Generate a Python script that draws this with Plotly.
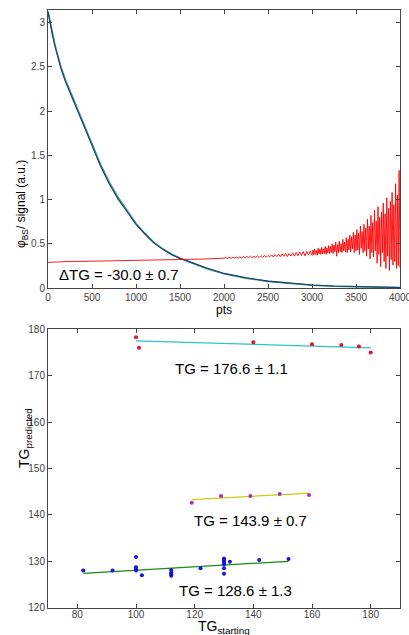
import numpy as np
import plotly.graph_objects as go

# ---------------- top panel data ----------------
sig_x = [0, 25, 50, 75, 100, 125, 150, 200, 250, 300, 350, 400, 450, 500, 600, 700, 800, 900, 1000,
         1100, 1200, 1300, 1400, 1500, 1600, 1800, 2000, 2250, 2500, 2750, 3000, 3250, 3500, 3750, 4000]
sig_blue = [3.12, 2.98, 2.86, 2.75, 2.65, 2.56, 2.47, 2.33, 2.20, 2.09, 1.97, 1.85, 1.72, 1.59,
            1.37, 1.17, 1.00, 0.86, 0.72, 0.61, 0.51, 0.44, 0.38, 0.335, 0.30, 0.225, 0.165,
            0.115, 0.078, 0.052, 0.034, 0.022, 0.014, 0.009, 0.005]
sig_green = [3.13, 3.00, 2.88, 2.77, 2.67, 2.58, 2.49, 2.35, 2.22, 2.11, 1.99, 1.87, 1.74, 1.61,
             1.39, 1.19, 1.02, 0.875, 0.73, 0.62, 0.52, 0.445, 0.385, 0.337, 0.30, 0.222, 0.162,
             0.112, 0.075, 0.049, 0.031, 0.019, 0.012, 0.007, 0.004]

red_x_a = [0, 100, 250, 500, 750, 1000, 1250, 1500, 1750, 2000]
red_y_a = [0.290, 0.297, 0.300, 0.303, 0.307, 0.311, 0.315, 0.320, 0.327, 0.337]
red_y_b = [0.345, 0.333, 0.348, 0.336, 0.347, 0.338, 0.350, 0.337, 0.352, 0.340,
           0.355, 0.339, 0.357, 0.342, 0.360, 0.343, 0.358, 0.345, 0.363, 0.344,
           0.366, 0.347, 0.370, 0.348, 0.368, 0.352, 0.375, 0.350, 0.378, 0.355,
           0.382, 0.354, 0.386, 0.358, 0.392, 0.356, 0.389, 0.362, 0.398, 0.360,
           0.402, 0.364, 0.408, 0.367, 0.412, 0.363, 0.415, 0.372, 0.420, 0.370]
red_y_c = [0.43, 0.375, 0.44, 0.38, 0.425, 0.37, 0.45, 0.385, 0.44, 0.38,
           0.46, 0.385, 0.445, 0.39, 0.47, 0.38, 0.455, 0.395, 0.48, 0.39,
           0.47, 0.40, 0.50, 0.39, 0.485, 0.41, 0.52, 0.36, 0.49, 0.40,
           0.53, 0.41, 0.50, 0.40, 0.55, 0.42, 0.52, 0.41, 0.57, 0.40,
           0.55, 0.43, 0.60, 0.41, 0.58, 0.44, 0.63, 0.40, 0.60, 0.42,
           0.66, 0.43, 0.62, 0.38, 0.70, 0.45, 0.64, 0.40, 0.72, 0.42,
           0.68, 0.36, 0.78, 0.44, 0.70, 0.33, 0.82, 0.40, 0.74, 0.35,
           0.88, 0.42, 0.76, 0.28, 0.92, 0.38, 0.80, 0.24, 0.86, 0.40,
           0.96, 0.30, 0.84, 0.22, 1.02, 0.36, 0.90, 0.20, 0.98, 0.32,
           1.08, 0.26, 0.94, 0.30, 1.18, 0.22, 1.05, 0.25, 1.33, 0.23]
red_x = red_x_a + list(range(2020, 3001, 20)) + list(range(3010, 4001, 10))
red_y = red_y_a + red_y_b + red_y_c

# ---------------- bottom panel data ----------------
red_pts_x = [100, 101, 140, 160, 170, 176, 180]
red_pts_y = [178.3, 176.0, 177.2, 176.8, 176.6, 176.3, 175.0]
cyan_fit_x = [100, 180]
cyan_fit_y = [177.5, 176.0]

mag_pts_x = [119, 129, 139, 149, 159]
mag_pts_y = [142.6, 144.1, 144.1, 144.5, 144.3]
yel_fit_x = [119, 159]
yel_fit_y = [143.3, 144.7]

blue_pts_x = [82, 92, 100, 100, 100, 100, 102, 112, 112, 112, 112, 122,
              130, 130, 130, 130, 130, 130, 132, 142, 152]
blue_pts_y = [128.0, 128.0, 130.9, 128.7, 128.3, 128.0, 127.0, 128.1, 127.6, 127.2, 126.9, 128.5,
              130.6, 130.2, 129.8, 129.3, 128.5, 127.3, 129.9, 130.3, 130.5]
grn_fit_x = [82, 152]
grn_fit_y = [127.4, 130.0]

fig = go.Figure()
fig.add_trace(go.Scatter(x=sig_x, y=sig_green, mode="lines", line=dict(color="#3a9a5a", width=1.6),
                         xaxis="x", yaxis="y"))
fig.add_trace(go.Scatter(x=sig_x, y=sig_blue, mode="lines", line=dict(color="#1c3a8c", width=1.1),
                         xaxis="x", yaxis="y"))
fig.add_trace(go.Scatter(x=red_x, y=red_y, mode="lines", line=dict(color="#ff0000", width=0.9),
                         xaxis="x", yaxis="y"))

fig.add_trace(go.Scatter(x=cyan_fit_x, y=cyan_fit_y, mode="lines", line=dict(color="#2cc4c4", width=1.3),
                         xaxis="x2", yaxis="y2"))
fig.add_trace(go.Scatter(x=red_pts_x, y=red_pts_y, mode="markers",
                         marker=dict(color="#e8102a", size=4), xaxis="x2", yaxis="y2"))
fig.add_trace(go.Scatter(x=yel_fit_x, y=yel_fit_y, mode="lines", line=dict(color="#cccc10", width=1.3),
                         xaxis="x2", yaxis="y2"))
fig.add_trace(go.Scatter(x=mag_pts_x, y=mag_pts_y, mode="markers",
                         marker=dict(color="#b02cb8", size=4), xaxis="x2", yaxis="y2"))
fig.add_trace(go.Scatter(x=grn_fit_x, y=grn_fit_y, mode="lines", line=dict(color="#1a8a1a", width=1.3),
                         xaxis="x2", yaxis="y2"))
fig.add_trace(go.Scatter(x=blue_pts_x, y=blue_pts_y, mode="markers",
                         marker=dict(color="#1414d8", size=4), xaxis="x2", yaxis="y2"))

axis_style = dict(showline=True, mirror="ticks", ticks="inside", ticklen=4, linecolor="#444",
                  tickcolor="#444", linewidth=1, showgrid=False, zeroline=False, automargin=False,
                  ticklabeloverflow="allow",
                  tickfont=dict(family="Liberation Sans", size=10, color="#444"))

fig.update_layout(
    width=409, height=635, margin=dict(l=0, r=0, t=0, b=0, autoexpand=False),
    paper_bgcolor="white", plot_bgcolor="white", showlegend=False,
    xaxis=dict(domain=[48/409, 400/409], range=[0, 4000], dtick=500, anchor="y", **axis_style),
    yaxis=dict(domain=[1-288/635, 1-10/635], range=[0, 3.144], dtick=0.5, anchor="x", **axis_style),
    xaxis2=dict(domain=[48/409, 400/409], range=[70, 190], dtick=20, anchor="y2",
                ticklabelstandoff=-3, **axis_style),
    yaxis2=dict(domain=[1-607.7/635, 1-329.3/635], range=[120, 180], dtick=10, anchor="x2", **axis_style),
)

ann_font = dict(family="Liberation Sans", size=15, color="black")
fig.add_annotation(x=807, y=0.155, xref="x", yref="y", text="ΔTG = -30.0 ± 0.7", showarrow=False, font=ann_font)
fig.add_annotation(x=132.5, y=171.6, xref="x2", yref="y2", text="TG = 176.6 ± 1.1", showarrow=False, font=ann_font)
fig.add_annotation(x=139, y=138.75, xref="x2", yref="y2", text="TG = 143.9 ± 0.7", showarrow=False, font=ann_font)
fig.add_annotation(x=134, y=123.8, xref="x2", yref="y2", text="TG = 128.6 ± 1.3", showarrow=False, font=ann_font)

lab_font = dict(family="Liberation Sans", size=12, color="black")
fig.add_annotation(x=224/409, y=1-310/635, xref="paper", yref="paper", text="pts", showarrow=False, font=lab_font)
fig.add_annotation(x=12/409, y=1-158/635, xref="paper", yref="paper", text="φ<sub>BS</sub>/ signal (a.u.)",
                   showarrow=False, textangle=-90, font=lab_font)
fig.add_annotation(x=224/409, y=0, xref="paper", yref="paper", yanchor="bottom", yshift=-3,
                   text="TG<sub>starting</sub>",
                   showarrow=False, font=dict(family="Liberation Sans", size=14, color="black"))
fig.add_annotation(x=14/409, y=1-470/635, xref="paper", yref="paper", text="TG<sub>predicted</sub>",
                   showarrow=False, textangle=-90, font=dict(family="Liberation Sans", size=14, color="black"))

fig.write_html("out.html", config={"displayModeBar": False},
               post_script="document.body.style.margin='0';document.body.style.overflow='hidden';")
